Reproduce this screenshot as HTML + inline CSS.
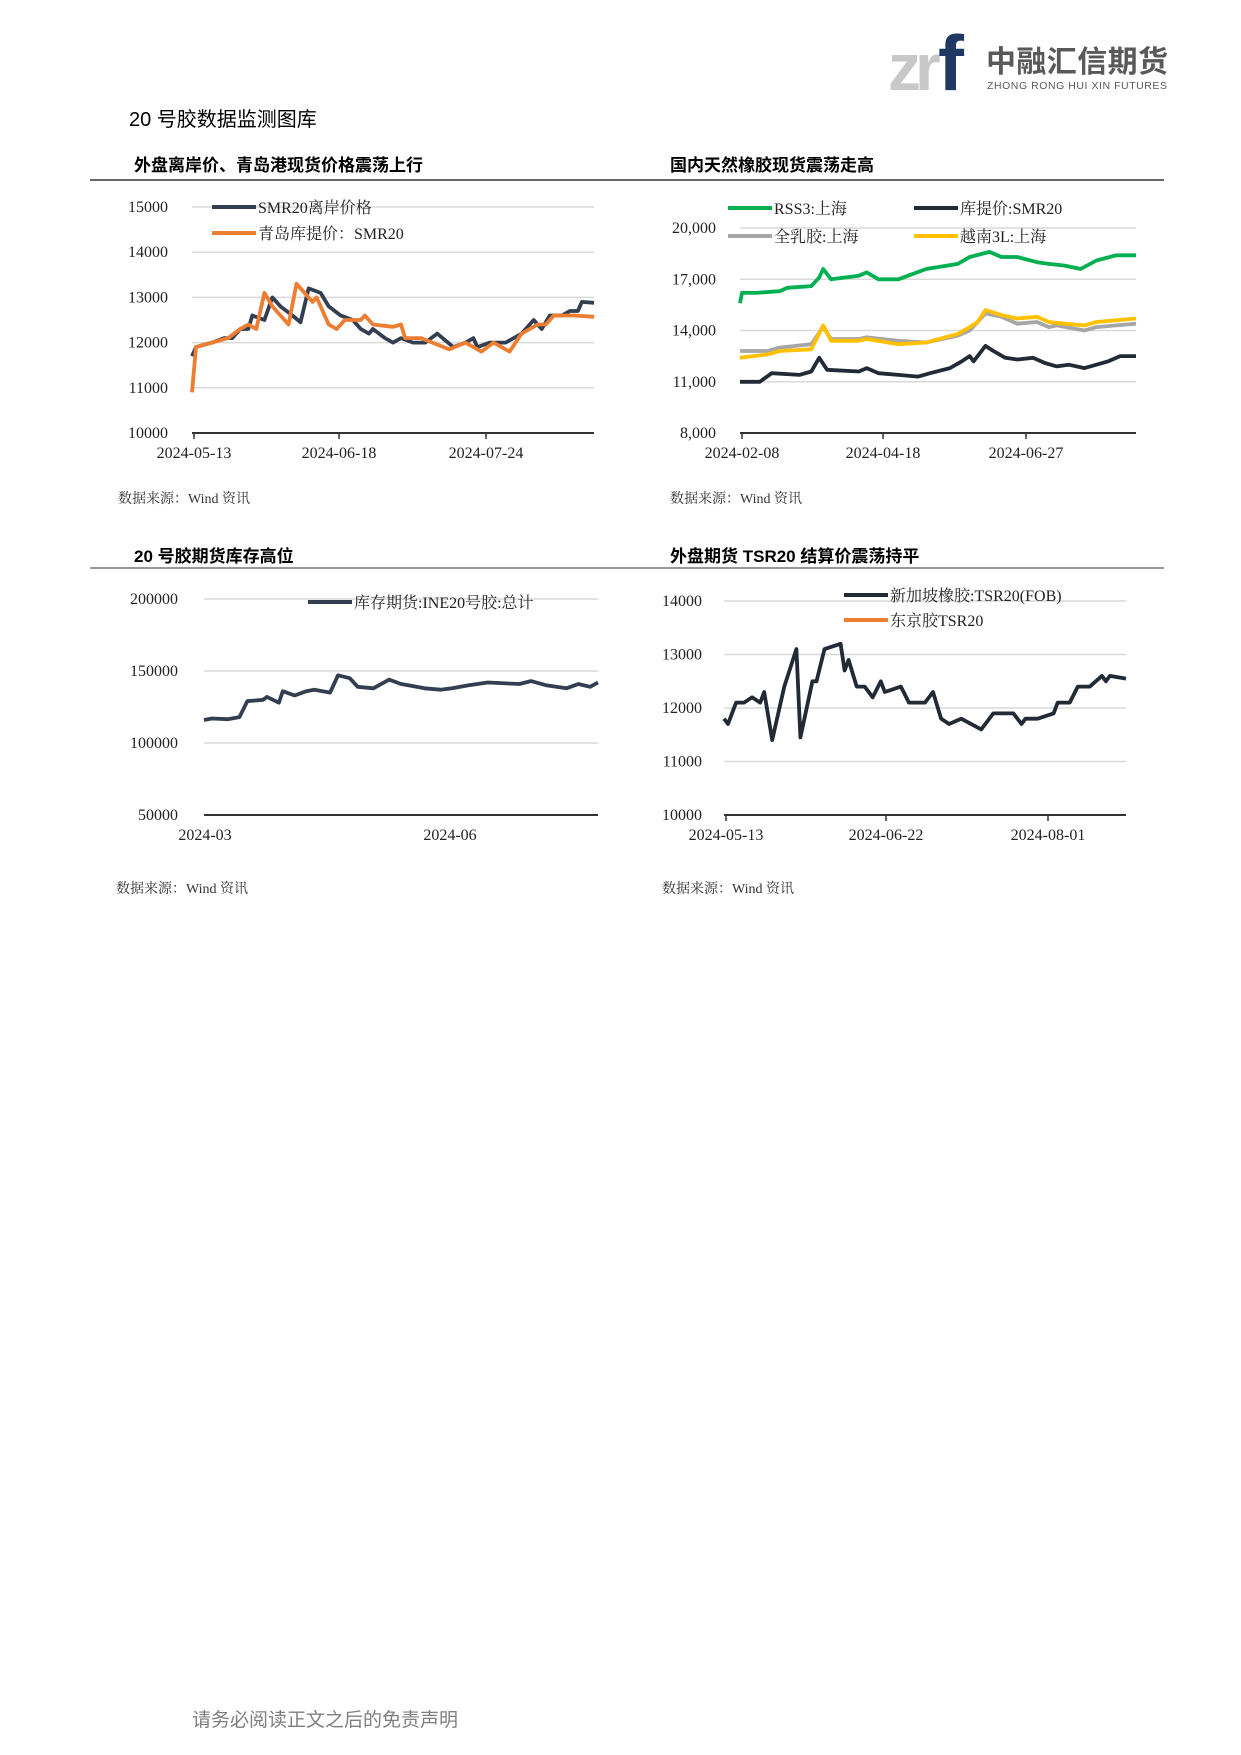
<!DOCTYPE html>
<html><head><meta charset="utf-8">
<style>
html,body{margin:0;padding:0;background:#fff;}
body{width:1241px;height:1755px;position:relative;overflow:hidden;}
svg{position:absolute;left:0;top:0;}
</style></head>
<body>
<svg id="s" width="1241" height="1755" viewBox="0 0 1241 1755" xmlns="http://www.w3.org/2000/svg" font-family="'Liberation Serif','Noto Serif CJK SC',serif">
<g>
<text x="888" y="90" font-family="'Liberation Sans',sans-serif" font-size="66" font-weight="bold" fill="#c8c8c8" letter-spacing="-6">zr</text>
<text x="938" y="90" font-family="'Liberation Sans',sans-serif" font-size="78" font-weight="bold" fill="#1f3864">f</text>
<text x="986" y="72" font-family="'Liberation Sans','Noto Sans CJK SC',sans-serif" font-size="30" font-weight="bold" fill="#595959" textLength="182">中融汇信期货</text>
<text x="987" y="89" font-family="'Liberation Sans',sans-serif" font-size="10.5" fill="#595959" textLength="180">ZHONG RONG HUI XIN FUTURES</text>
</g>
<text x="129" y="126" font-family="'Liberation Sans','Noto Sans CJK SC',sans-serif" font-size="20" fill="#000">20 号胶数据监测图库</text>
<g font-family="'Liberation Sans','Noto Sans CJK SC',sans-serif" font-size="17" font-weight="bold" fill="#000">
<text x="134" y="171">外盘离岸价、青岛港现货价格震荡上行</text>
<text x="670" y="171">国内天然橡胶现货震荡走高</text>
<text x="134" y="562">20 号胶期货库存高位</text>
<text x="670" y="562">外盘期货 TSR20 结算价震荡持平</text>
</g>
<line x1="90" y1="180" x2="1164" y2="180" stroke="#333" stroke-width="1.5"/>
<line x1="90" y1="568" x2="1164" y2="568" stroke="#777" stroke-width="1.5"/>
<g font-size="14" fill="#333" font-family="'Liberation Serif','Noto Serif CJK SC',serif">
<text x="118" y="503">数据来源：Wind 资讯</text>
<text x="670" y="503">数据来源：Wind 资讯</text>
<text x="116" y="893">数据来源：Wind 资讯</text>
<text x="662" y="893">数据来源：Wind 资讯</text>
</g>
<text x="192" y="1726" font-family="'Liberation Sans','Noto Sans CJK SC',sans-serif" font-size="19" fill="#7f7f7f">请务必阅读正文之后的免责声明</text>
<g id="charts"></g>
</svg>
<script>
var NS="http://www.w3.org/2000/svg",G=document.getElementById("charts");
function el(t,a,txt){var e=document.createElementNS(NS,t);for(var k in a)e.setAttribute(k,a[k]);if(txt!=null)e.textContent=txt;G.appendChild(e);return e;}
function chart(c){
  var ys=function(v){return c.y0+(v-c.v0)*(c.y1-c.y0)/(c.v1-c.v0);};
  c.ticks.forEach(function(t,i){
    var y=ys(t.v);
    el("line",{x1:c.x0,x2:c.x1,y1:y,y2:y,stroke:i==0?"#333":"#d9d9d9","stroke-width":i==0?2:1.5});
    el("text",{x:c.lx,y:y+5,"text-anchor":"end","font-size":16,fill:"#222"},t.l);
  });
  (c.xt||[]).forEach(function(t){
    if(c.tickmarks)el("line",{x1:t.x,x2:t.x,y1:c.y0,y2:c.y0+6,stroke:"#333","stroke-width":1.5});
    el("text",{x:t.x,y:c.y0+25,"text-anchor":"middle","font-size":16,fill:"#222"},t.l);
  });
  c.series.forEach(function(s){
    var pts=s.d.map(function(p){return (c.x0+p[1]*(c.x1-c.x0)).toFixed(1)+","+ys(p[0]).toFixed(1);}).join(" ");
    el("polyline",{points:pts,fill:"none",stroke:s.c,"stroke-width":s.w||3.8,"stroke-linejoin":"round"});
  });
  (c.leg||[]).forEach(function(l){
    el("line",{x1:l.x,x2:l.x+44,y1:l.y,y2:l.y,stroke:l.c,"stroke-width":4});
    el("text",{x:l.x+46,y:l.y+6,"font-size":16,fill:"#222"},l.t);
  });
}
function P(a){var r=[];for(var i=0;i<a.length;i+=2)r.push([a[i+1],a[i]]);return r;}
chart({x0:192,x1:594,y0:433,y1:207,v0:10000,v1:15000,lx:168,tickmarks:true,
 ticks:[{v:10000,l:"10000"},{v:11000,l:"11000"},{v:12000,l:"12000"},{v:13000,l:"13000"},{v:14000,l:"14000"},{v:15000,l:"15000"}],
 xt:[{x:194,l:"2024-05-13"},{x:339,l:"2024-06-18"},{x:486,l:"2024-07-24"}],
 series:[
 {c:"#333f50",d:P([0,11700,0.01,11900,0.05,12000,0.08,12100,0.1,12100,0.12,12300,0.14,12300,0.15,12600,0.18,12500,0.2,13000,0.22,12800,0.25,12600,0.27,12450,0.29,13200,0.32,13100,0.34,12800,0.37,12600,0.40,12500,0.42,12300,0.44,12200,0.45,12300,0.48,12100,0.5,12000,0.52,12100,0.55,12000,0.58,12000,0.61,12200,0.65,11900,0.68,12000,0.70,12100,0.71,11900,0.74,12000,0.78,12000,0.82,12200,0.85,12500,0.87,12300,0.89,12600,0.92,12600,0.94,12700,0.96,12700,0.97,12900,1.0,12880])},
 {c:"#ed7d31",d:P([0,10900,0.01,11900,0.05,12000,0.09,12100,0.12,12300,0.14,12400,0.16,12300,0.18,13100,0.2,12800,0.24,12400,0.26,13300,0.3,12900,0.31,13000,0.34,12400,0.36,12300,0.38,12500,0.42,12500,0.43,12600,0.45,12400,0.5,12350,0.52,12400,0.53,12100,0.57,12100,0.64,11850,0.68,12000,0.72,11800,0.75,12000,0.79,11800,0.82,12200,0.86,12400,0.88,12400,0.9,12600,0.95,12600,1,12570])}],
 leg:[{x:212,y:207,c:"#333f50",t:"SMR20离岸价格"},{x:212,y:233,c:"#ed7d31",t:"青岛库提价：SMR20"}]});
chart({x0:740,x1:1136,y0:433,y1:228,v0:8000,v1:20000,lx:716,tickmarks:true,
 ticks:[{v:8000,l:"8,000"},{v:11000,l:"11,000"},{v:14000,l:"14,000"},{v:17000,l:"17,000"},{v:20000,l:"20,000"}],
 xt:[{x:742,l:"2024-02-08"},{x:883,l:"2024-04-18"},{x:1026,l:"2024-06-27"}],
 series:[
 {c:"#00b050",d:P([0,15600,0.005,16200,0.04,16200,0.1,16300,0.12,16500,0.18,16600,0.2,17100,0.21,17600,0.23,17000,0.3,17200,0.32,17400,0.35,17000,0.4,17000,0.47,17600,0.55,17900,0.58,18300,0.63,18600,0.66,18300,0.7,18300,0.75,18000,0.78,17900,0.82,17800,0.86,17600,0.9,18100,0.95,18400,1,18400])},
 {c:"#a6a6a6",d:P([0,12800,0.07,12800,0.1,13000,0.18,13200,0.21,14200,0.23,13500,0.3,13500,0.32,13600,0.4,13400,0.47,13300,0.55,13700,0.58,14000,0.6,14500,0.62,15000,0.66,14800,0.7,14400,0.75,14500,0.78,14200,0.8,14300,0.87,14000,0.9,14200,0.95,14300,1,14400])},
 {c:"#ffc000",d:P([0,12400,0.07,12600,0.1,12800,0.18,12900,0.21,14300,0.23,13400,0.3,13400,0.32,13500,0.4,13200,0.47,13300,0.55,13800,0.58,14200,0.6,14500,0.62,15200,0.66,14900,0.7,14700,0.75,14800,0.78,14500,0.82,14400,0.87,14300,0.9,14500,0.95,14600,1,14700])},
 {c:"#222a35",d:P([0,11000,0.05,11000,0.08,11500,0.15,11400,0.18,11600,0.2,12400,0.22,11700,0.3,11600,0.32,11800,0.35,11500,0.4,11400,0.45,11300,0.48,11500,0.53,11800,0.56,12200,0.58,12500,0.59,12200,0.62,13100,0.64,12800,0.67,12400,0.7,12300,0.74,12400,0.77,12100,0.8,11900,0.83,12000,0.87,11800,0.9,12000,0.93,12200,0.96,12500,1,12500])}],
 leg:[{x:728,y:208,c:"#00b050",t:"RSS3:上海"},{x:914,y:208,c:"#222a35",t:"库提价:SMR20"},{x:728,y:236,c:"#a6a6a6",t:"全乳胶:上海"},{x:914,y:236,c:"#ffc000",t:"越南3L:上海"}]});
chart({x0:204,x1:598,y0:815,y1:599,v0:50000,v1:200000,lx:178,
 ticks:[{v:50000,l:"50000"},{v:100000,l:"100000"},{v:150000,l:"150000"},{v:200000,l:"200000"}],
 xt:[{x:205,l:"2024-03"},{x:450,l:"2024-06"}],
 series:[{c:"#333f50",d:P([0,116000,0.02,117000,0.06,116500,0.09,118000,0.11,129000,0.15,130000,0.16,132000,0.19,128000,0.2,136000,0.23,133000,0.26,136000,0.28,137000,0.32,135000,0.34,147000,0.37,145000,0.39,139000,0.43,138000,0.47,144000,0.5,141000,0.52,140000,0.56,138000,0.6,137000,0.63,138000,0.67,140000,0.72,142000,0.8,141000,0.83,143000,0.87,140000,0.92,138000,0.95,141000,0.98,139000,1,142000])}],
 leg:[{x:308,y:602,c:"#333f50",t:"库存期货:INE20号胶:总计"}]});
chart({x0:724,x1:1126,y0:815,y1:601,v0:10000,v1:14000,lx:702,tickmarks:true,
 ticks:[{v:10000,l:"10000"},{v:11000,l:"11000"},{v:12000,l:"12000"},{v:13000,l:"13000"},{v:14000,l:"14000"}],
 xt:[{x:726,l:"2024-05-13"},{x:886,l:"2024-06-22"},{x:1048,l:"2024-08-01"}],
 series:[{c:"#222a35",d:P([0,11800,0.01,11700,0.03,12100,0.05,12100,0.07,12200,0.09,12100,0.1,12300,0.12,11400,0.15,12400,0.18,13100,0.19,11450,0.22,12500,0.23,12500,0.25,13100,0.29,13200,0.3,12700,0.31,12900,0.33,12400,0.35,12400,0.37,12200,0.39,12500,0.4,12300,0.44,12400,0.46,12100,0.5,12100,0.52,12300,0.54,11800,0.56,11700,0.59,11800,0.64,11600,0.67,11900,0.72,11900,0.74,11700,0.75,11800,0.78,11800,0.82,11900,0.83,12100,0.86,12100,0.88,12400,0.91,12400,0.94,12600,0.95,12500,0.96,12600,1,12550])}],
 leg:[{x:844,y:595,c:"#222a35",t:"新加坡橡胶:TSR20(FOB)"},{x:844,y:620,c:"#ed7d31",t:"东京胶TSR20"}]});
</script>
</body></html>
